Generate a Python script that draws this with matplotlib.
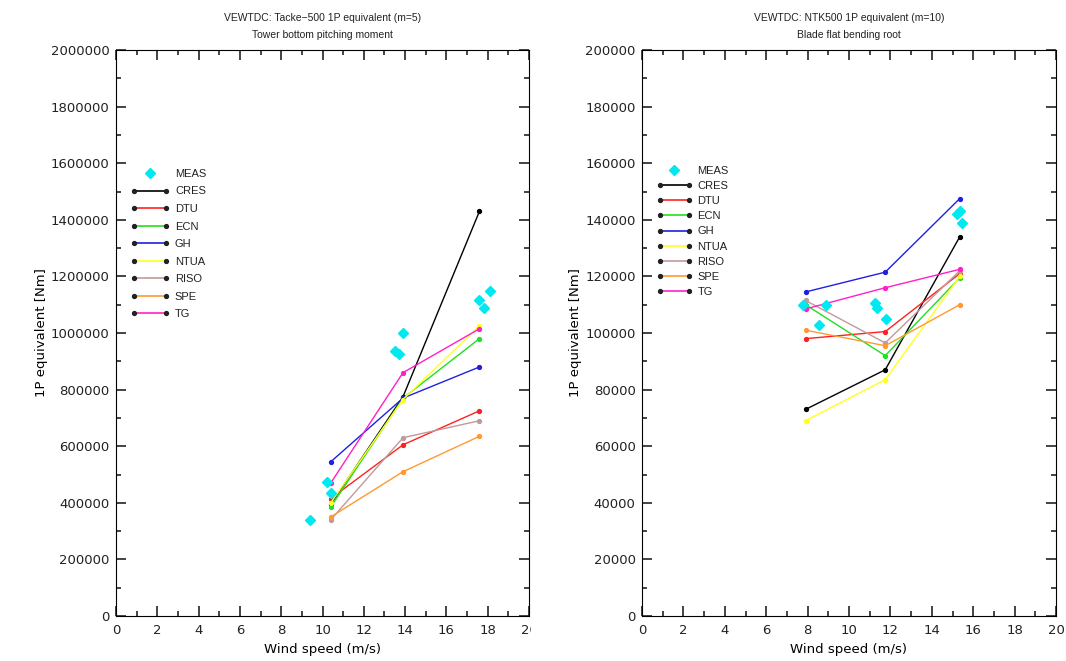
import matplotlib
matplotlib.use("Agg")
import matplotlib.pyplot as plt
from matplotlib.lines import Line2D
from matplotlib.legend_handler import HandlerLine2D
from matplotlib.transforms import Bbox, TransformedBbox

plt.rcParams['font.family'] = ['Liberation Sans', 'DejaVu Sans']
plt.rcParams['font.size'] = 8
plt.rcParams['text.color'] = '#222222'

codes = ['CRES', 'DTU', 'ECN', 'GH', 'NTUA', 'RISO', 'SPE', 'TG']
colors = ['#000000', '#ff2020', '#20e020', '#2020e0', '#ffff20', '#c09a9a', '#ff9933', '#ff20c8']
meas_color = '#00e8f0'

# Tacke-500, tower bottom pitching moment
tacke_wind = [10.4, 13.9, 17.6]
tacke_sim = {
    'CRES': [395000, 775000, 1430000],
    'DTU': [415000, 605000, 725000],
    'ECN': [385000, 770000, 980000],
    'GH': [545000, 770000, 880000],
    'NTUA': [400000, 765000, 1025000],
    'RISO': [340000, 630000, 690000],
    'SPE': [350000, 510000, 635000],
    'TG': [470000, 860000, 1015000],
}
tacke_meas_wind = [9.4, 10.2, 10.4, 13.5, 13.7, 13.9, 17.6, 17.8, 18.1]
tacke_meas = [340000, 475000, 435000, 935000, 925000, 1000000, 1115000, 1090000, 1150000]

# NTK500, blade flap bending at root
ntk_wind = [7.9, 11.75, 15.35]
ntk_sim = {
    'CRES': [73000, 87000, 134000],
    'DTU': [98000, 100500, 121000],
    'ECN': [110000, 92000, 119500],
    'GH': [114500, 121500, 147500],
    'NTUA': [69000, 83500, 120000],
    'RISO': [111500, 96500, 122000],
    'SPE': [101000, 95500, 110000],
    'TG': [108500, 116000, 122500],
}
ntk_meas_wind = [7.8, 8.9, 8.55, 11.25, 11.35, 11.8, 15.2, 15.35, 15.45]
ntk_meas = [110000, 110000, 103000, 110500, 109000, 105000, 142000, 143000, 139000]

wide = ['DejaVu Sans']


class EndMarker(HandlerLine2D):
    # single marker drawn at the right end of the legend handle
    def get_xdata(self, legend, xdescent, ydescent, width, height, fontsize):
        xdata = [-xdescent, -xdescent + width]
        return xdata, [-xdescent + width - 1.5]


def draw_panel(ax, wind, sim, meas_wind, meas, ymax, ystep, title, spacing, hlen, top):
    ax.plot(meas_wind, meas, linestyle='none', marker='D', ms=5.5,
            color=meas_color, mec=meas_color, zorder=3)
    for code, c in zip(codes, colors):
        ax.plot(wind, sim[code], color=c, lw=1.0, marker='o', ms=2.8,
                mfc=c, mec=c, zorder=2)

    ax.set_xlim(0, 20)
    ax.set_ylim(0, ymax)
    ax.set_xticks(range(0, 21, 2))
    ax.set_xticks(range(1, 20, 2), minor=True)
    yt = list(range(0, ymax + 1, ystep))
    ax.set_yticks(yt, [str(v) for v in yt])
    ax.set_yticks(range(ystep // 2, ymax, ystep), minor=True)
    ax.tick_params(which='both', direction='in', top=True, right=True,
                   width=1.1, colors='#111111', labelcolor='#222222')
    ax.tick_params(which='major', length=7)
    ax.tick_params(which='minor', length=3.5)
    ax.tick_params(axis='x', which='major', pad=6)
    ax.tick_params(axis='y', which='major', pad=4.5)
    for lab in ax.get_xticklabels() + ax.get_yticklabels():
        lab.set_family(wide)
        lab.set_fontsize(9.5)
    ax.set_xlabel('Wind speed (m/s)', family=wide, fontsize=9.5, labelpad=4)
    ax.set_ylabel('1P equivalent [Nm]', family=wide, fontsize=9.5, labelpad=2)
    ax.set_title(title, fontsize=7.5, pad=9, linespacing=1.87)

    handles = [Line2D([], [], linestyle='none', marker='D', ms=5, color=meas_color)]
    handles += [Line2D([], [], color=c, lw=1.2, marker='o', ms=2.8, mfc='#222222', mec='#222222')
                for c in colors]
    ax.legend(handles, ['MEAS'] + codes, loc='upper left', bbox_to_anchor=(0.035, top),
              frameon=False, numpoints=2, handlelength=hlen, handletextpad=0.5,
              labelspacing=spacing, borderpad=0, borderaxespad=0, fontsize=8,
              handler_map={handles[0]: EndMarker(numpoints=1)})


fig = plt.figure(figsize=(10.66, 6.61), dpi=100)
ax1 = fig.add_axes([116 / 1066, 45 / 661, 413 / 1066, 566 / 661])
ax2 = fig.add_axes([642 / 1066, 45 / 661, 414 / 1066, 566 / 661])

draw_panel(ax1, tacke_wind, tacke_sim, tacke_meas_wind, tacke_meas, 2000000, 200000,
           'VEWTDC: Tacke\u2212500 1P equivalent (m=5)\nTower bottom pitching moment',
           0.68, 3.5, 0.79)
draw_panel(ax2, ntk_wind, ntk_sim, ntk_meas_wind, ntk_meas, 200000, 20000,
           'VEWTDC: NTK500 1P equivalent (m=10)\nBlade flat bending root',
           0.46, 3.2, 0.795)

# left panel is cut just after its last tick label
clip = TransformedBbox(Bbox([[0, 0], [531 / 1066, 1]]), fig.transFigure)
last = ax1.xaxis.get_major_ticks()[-1].label1
last.set_clip_box(clip)
last.set_clip_on(True)

fig.savefig('out.png', dpi=100)
